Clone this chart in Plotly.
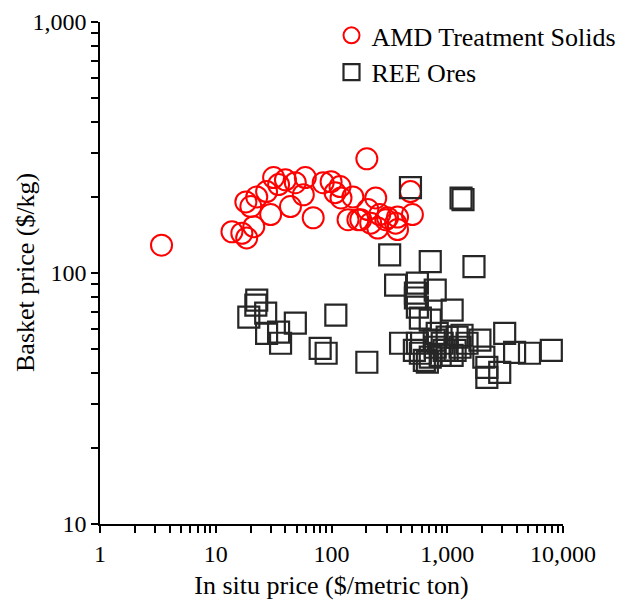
import plotly.graph_objects as go

# AMD Treatment Solids (in situ price $/t, basket price $/kg)
amd_x = [3.4, 13.8, 16.8, 18.5, 21.3, 18.2, 20.1, 22.6, 29.8, 27.5, 31.6, 34.9, 40.0,
         44.2, 48.7, 59.4, 57.1, 69.5, 84.7, 99.2, 118.5, 107.4, 120.8, 153, 139, 169,
         241, 206, 218, 261, 251, 305, 358, 372, 481, 500, 202, 179, 294, 372]
amd_y = [129, 146, 144, 138, 153, 192, 184, 201, 171, 211, 240, 225, 235,
         184, 229, 240, 205, 166, 229, 231, 221, 209, 199, 201, 163, 163,
         199, 179, 158, 171, 151, 166, 158, 149, 211, 171, 285, 163, 163, 167]

# REE Ores
ree_x = [22.6, 22.2, 19.3, 27.0, 27.5, 34.9, 36.3, 48.7, 79.8, 89.9, 109, 202,
         481, 1316, 1368,
         318, 713, 1702, 358, 552, 787, 531, 531, 552, 1102, 586, 713,
         395, 552, 586, 673, 772, 819, 904, 998, 998, 1216, 1291, 1482, 1915, 2071,
         2198, 2198, 2840, 3135, 3818, 5132, 7925, 520, 634, 713, 869, 1102, 1342,
         787, 940, 1169]
ree_y = [78.0, 74.5, 66.7, 69.2, 57.5, 58.1, 52.5, 63.1, 50.1, 47.9, 68.0, 44.1,
         219, 199, 196,
         118, 111, 106, 89.5, 91.2, 85.5, 83.2, 79.5, 73.1, 71.1, 66.1, 64.9,
         52.5, 52.5, 47.9, 44.1, 54.0, 57.5, 52.5, 55.5, 49.2, 55.5, 50.6, 52.5, 54.0, 46.2,
         42.1, 38.4, 40.2, 57.5, 48.3, 47.9, 49.2, 49.2, 44.9, 46.2, 47.0, 47.0, 56.5,
         50.6, 49.2, 49.2]

x_major = [1, 10, 100, 1000, 10000]
x_major_text = ["1", "10", "100", "1,000", "10,000"]
y_major = [10, 100, 1000]
y_major_text = ["10", "100", "1,000"]


def log_ticks(majors, labels):
    vals, texts = [], []
    for i, m in enumerate(majors):
        vals.append(m)
        texts.append(labels[i])
        if i < len(majors) - 1:
            for k in range(2, 10):
                vals.append(m * k)
                texts.append("")
    return vals, texts


xv, xt = log_ticks(x_major, x_major_text)
yv, yt = log_ticks(y_major, y_major_text)

FONT = "Liberation Serif"

fig = go.Figure()
fig.add_trace(go.Scatter(
    x=amd_x, y=amd_y, mode="markers", name="AMD Treatment Solids",
    legendgroup="a",
    marker=dict(symbol="circle-open", size=21, color="#ff0000",
                line=dict(color="#ff0000", width=2)),
))
fig.add_trace(go.Scatter(
    x=ree_x, y=ree_y, mode="markers", name="REE Ores",
    legendgroup="b",
    marker=dict(symbol="square-open", size=21, color="#262626",
                line=dict(color="#262626", width=2.2)),
))

fig.update_layout(
    width=619, height=604,
    margin=dict(l=100, r=56, t=22, b=80, autoexpand=False),
    paper_bgcolor="white", plot_bgcolor="white",
    font=dict(family=FONT, size=24, color="black"),
    showlegend=True,
    legend=dict(x=0.5, y=1.02, xanchor="left", yanchor="top",
                bgcolor="rgba(0,0,0,0)", font=dict(family=FONT, size=26),
                traceorder="grouped", tracegroupgap=0, itemwidth=30),
    annotations=[dict(
        text="Basket price ($/kg)", textangle=-90,
        xref="paper", yref="paper", x=(25 - 100) / 463, y=0.5,
        xanchor="center", yanchor="middle", showarrow=False,
        font=dict(family=FONT, size=26, color="black"),
    )],
)
fig.update_xaxes(
    type="log", range=[0, 4],
    tickmode="array", tickvals=xv, ticktext=xt,
    ticks="outside", ticklen=7, tickwidth=1.5, tickcolor="black",
    showline=True, linecolor="black", linewidth=1.5,
    showgrid=False, zeroline=False,
    tickfont=dict(family=FONT, size=24),
    title=dict(text="In situ price ($/metric ton)", font=dict(family=FONT, size=26), standoff=10),
)
fig.update_yaxes(
    type="log", range=[1, 3],
    tickmode="array", tickvals=yv, ticktext=yt,
    ticks="outside", ticklen=7, tickwidth=1.5, tickcolor="black",
    showline=True, linecolor="black", linewidth=1.5,
    showgrid=False, zeroline=False,
    tickfont=dict(family=FONT, size=24),
)

fig.write_html("out.html")
